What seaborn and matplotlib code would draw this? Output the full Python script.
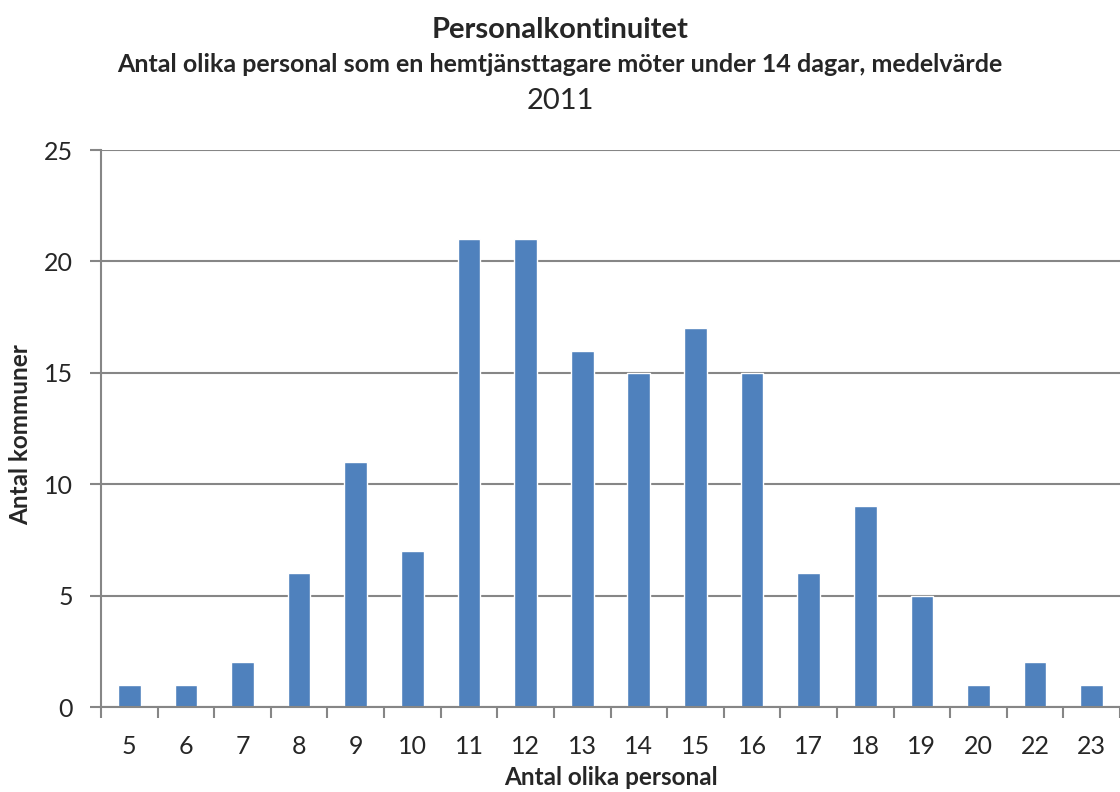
import matplotlib
matplotlib.use("Agg")
import matplotlib.pyplot as plt
import numpy as np
import pandas as pd
import seaborn as sns

# antal olika personal (kategorier) och antal kommuner
categories = ["5", "6", "7", "8", "9", "10", "11", "12", "13", "14",
              "15", "16", "17", "18", "19", "20", "22", "23"]
counts = [1, 1, 2, 6, 11, 7, 21, 21, 16, 15, 17, 15, 6, 9, 5, 1, 2, 1]
y_ticks = [0, 5, 10, 15, 20, 25]

BAR_COLOR = "#4F81BD"
GRID_COLOR = "#868686"

sns.set_theme(style="white")
plt.rcParams["font.family"] = ["Lato", "DejaVu Sans"]

df = pd.DataFrame({"personal": categories, "kommuner": counts})

fig = plt.figure(figsize=(11.2, 7.92), dpi=100)
ax = fig.add_axes([0.0902, 0.1073, 0.9098, 0.7033])

sns.barplot(data=df, x="personal", y="kommuner", order=categories,
            color=BAR_COLOR, width=0.4, saturation=1, ax=ax)

ax.set_ylim(0, 25)
ax.set_xlim(-0.5, len(categories) - 0.5)
ax.set_yticks(y_ticks)
ax.yaxis.grid(True, color=GRID_COLOR, linewidth=1.5)
ax.set_axisbelow(True)

# category labels in the middle, tick marks between categories
ax.set_xticks(np.arange(len(categories)))
ax.set_xticklabels(categories)
ax.set_xticks(np.arange(len(categories) + 1) - 0.5, minor=True)
ax.tick_params(axis="x", which="major", length=0, pad=20, labelsize=18)
ax.tick_params(axis="x", which="minor", length=8, width=1.5,
               color=GRID_COLOR, direction="out", bottom=True)
ax.tick_params(axis="y", length=8, width=1.5, color=GRID_COLOR,
               direction="out", left=True, pad=12, labelsize=18)

for side in ["top", "right"]:
    ax.spines[side].set_visible(False)
for side in ["left", "bottom"]:
    ax.spines[side].set_color(GRID_COLOR)
    ax.spines[side].set_linewidth(1.5)

ax.set_xlabel("Antal olika personal", fontsize=17.5, fontweight="bold")
ax.xaxis.set_label_coords(0.5, -0.105)
ax.set_ylabel("Antal kommuner", fontsize=17.5, fontweight="bold")
ax.yaxis.set_label_coords(-0.068, 0.49)

fig.text(0.5, 0.962, "Personalkontinuitet", ha="center", va="center",
         fontsize=21, fontweight="bold")
fig.text(0.5, 0.918,
         "Antal olika personal som en hemtjänsttagare möter under 14 dagar, medelvärde",
         ha="center", va="center", fontsize=18, fontweight="bold")
fig.text(0.5, 0.873, "2011", ha="center", va="center", fontsize=21)

fig.savefig("out.png", dpi=100)
